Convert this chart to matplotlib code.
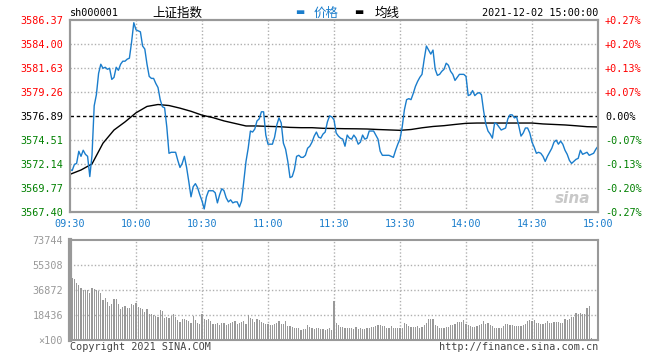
import numpy as np
import matplotlib
matplotlib.use("Agg")
import matplotlib.pyplot as plt

plt.rcParams['font.family'] = ['DejaVu Sans Mono', 'Noto Sans CJK SC']

# --- data (上证指数 sh000001, 2021-12-02, one value per minute)
prev_close = 3576.89

price = [
    3571.6, 3571.5, 3572.1, 3572.2, 3573.4, 3572.9, 3573.5, 3573.1, 3572.9, 3570.9,
    3573.0, 3577.9, 3579.0, 3581.1, 3582.0, 3581.6, 3581.7, 3581.5, 3581.6, 3580.5,
    3580.7, 3581.7, 3581.4, 3582.0, 3582.3, 3582.3, 3582.5, 3582.6, 3584.2, 3586.1,
    3585.4, 3585.3, 3585.2, 3583.8, 3583.5, 3582.0, 3580.8, 3580.6, 3580.6, 3580.1,
    3579.7, 3578.5, 3577.8, 3577.7, 3575.8, 3573.2, 3573.3, 3573.3, 3573.3, 3572.5,
    3571.8, 3572.2, 3572.9, 3571.8, 3570.4, 3568.9, 3569.9, 3570.2, 3569.8, 3569.1,
    3568.5, 3567.7, 3568.9, 3569.5, 3569.5, 3569.5, 3569.3, 3568.3, 3569.1, 3569.7,
    3569.5, 3568.8, 3568.4, 3568.6, 3568.3, 3568.4, 3568.4, 3567.9, 3568.5, 3570.5,
    3572.4, 3573.7, 3575.4, 3575.3, 3575.6, 3576.4, 3576.6, 3577.3, 3577.3, 3575.0,
    3574.1, 3574.1, 3574.1, 3574.8, 3576.0, 3576.7, 3576.2, 3574.2, 3573.6, 3572.4,
    3570.8, 3570.9, 3571.6, 3572.9, 3573.0, 3572.8, 3572.8, 3573.0, 3573.7, 3573.9,
    3574.3, 3574.9, 3575.3, 3574.8, 3574.7, 3575.1, 3575.3, 3576.3, 3576.9, 3576.8,
    3576.5, 3575.2, 3574.9, 3574.7, 3574.6, 3573.9, 3575.0, 3574.7, 3574.6, 3575.0,
    3574.7, 3574.1, 3574.3, 3575.0, 3574.6, 3574.7, 3575.4, 3575.4, 3575.4, 3575.0,
    3574.6, 3573.4, 3573.0, 3573.0, 3573.0, 3573.0, 3572.9, 3572.8, 3573.5, 3574.1,
    3574.6, 3575.8, 3577.5, 3578.5, 3578.6, 3578.5, 3579.1, 3579.8, 3580.3, 3580.7,
    3581.0, 3582.5, 3583.8, 3583.4, 3583.0, 3583.4, 3581.5, 3580.9, 3581.0, 3581.3,
    3581.5, 3582.1, 3581.9, 3581.3, 3581.0, 3580.4, 3580.7, 3581.0, 3581.0, 3581.0,
    3580.8, 3578.9, 3579.0, 3579.4, 3578.9, 3579.1, 3579.2, 3579.0, 3577.4, 3576.1,
    3575.4, 3575.1, 3574.7, 3576.2, 3576.1, 3575.8, 3575.5, 3575.6, 3575.7, 3576.6,
    3577.0, 3577.0, 3576.7, 3576.8, 3575.9, 3574.9, 3575.2, 3575.7, 3575.7, 3575.2,
    3574.3, 3573.8, 3573.2, 3573.3, 3573.2, 3572.9, 3572.4, 3572.9, 3573.3, 3573.7,
    3574.3, 3574.5, 3574.1, 3574.4, 3574.1, 3573.5, 3573.1, 3572.5, 3572.2, 3572.4,
    3572.6, 3572.7, 3573.5, 3573.1, 3573.2, 3573.3, 3573.0, 3573.1, 3573.2, 3573.6,
    3573.9,
]

# 均线 read every 5 minutes
avg_minutes = list(range(0, 241, 5))
avg_price = [
    3571.12, 3571.55, 3572.15, 3574.20, 3575.50, 3576.30, 3577.20, 3577.83, 3578.02, 3577.92,
    3577.66, 3577.35, 3576.97, 3576.72, 3576.40, 3576.15, 3575.90, 3575.90, 3575.86, 3575.83,
    3575.76, 3575.73, 3575.73, 3575.67, 3575.65, 3575.63, 3575.62, 3575.60, 3575.55, 3575.51,
    3575.47, 3575.55, 3575.72, 3575.85, 3575.93, 3576.05, 3576.16, 3576.19, 3576.19, 3576.19,
    3576.19, 3576.19, 3576.19, 3576.10, 3576.05, 3576.00, 3575.92, 3575.83, 3575.80,
]

volume = [
    73744, 45470, 44740, 42280, 40310, 38100, 36870, 36870, 36620, 34900,
    38100, 37850, 36620, 36130, 34900, 29250, 31220, 28270, 25070, 26790,
    29990, 30480, 26300, 23110, 24580, 25070, 23840, 23840, 26300, 25560,
    27530, 24580, 23840, 23110, 20890, 23110, 19420, 18930, 18440, 17700,
    16960, 22370, 21630, 15980, 17210, 16470, 17700, 19420, 17210, 14750,
    13520, 15240, 15730, 14500, 14010, 12780, 17950, 14990, 12780, 12040,
    19170, 15730, 14750, 15730, 14010, 12040, 12040, 12780, 11310, 12540,
    12540, 11060, 11550, 12290, 13270, 14260, 12040, 12290, 13030, 14260,
    12040, 18440, 16470, 15730, 13520, 15490, 14500, 13030, 12780, 12040,
    12040, 11060, 10820, 12040, 12780, 14010, 12040, 12040, 14010, 10570,
    10570, 9590, 8850, 8600, 8600, 7620, 8360, 8360, 11060, 9830,
    9090, 8110, 9090, 9090, 8110, 7870, 7620, 7870, 9090, 7620,
    28500, 12780, 10820, 9830, 9830, 9090, 8600, 8600, 8600, 7870,
    9830, 7870, 9090, 7870, 8110, 8600, 9090, 9590, 9830, 10570,
    10820, 11060, 10080, 10080, 9090, 9090, 10570, 9090, 9090, 9090,
    8600, 9090, 12780, 12040, 10320, 9830, 9830, 9830, 10570, 9090,
    9830, 11060, 12780, 15240, 15240, 15240, 11060, 10320, 8600, 9090,
    9090, 9590, 9830, 10820, 11060, 12040, 13270, 13520, 13520, 14500,
    12040, 11060, 10570, 9590, 9590, 10570, 11060, 12040, 14260, 12040,
    12780, 11060, 10320, 8600, 8600, 9090, 9090, 10320, 12040, 11550,
    10820, 10820, 10320, 10320, 10320, 10320, 11060, 12040, 14010, 14500,
    14010, 14500, 12780, 12780, 12040, 12040, 12780, 14010, 12780, 12780,
    13520, 13520, 13520, 12780, 12780, 15240, 14500, 15240, 17210, 17210,
    19910, 19420, 20160, 18930, 19420, 23840, 25320, 1720, 0, 0,
    0,
]

price_levels = [3567.40, 3569.77, 3572.14, 3574.51, 3576.89, 3579.26, 3581.63, 3584.00, 3586.37]
pct_labels = ["-0.27%", "-0.20%", "-0.13%", "-0.07%", "0.00%", "+0.07%", "+0.13%", "+0.20%", "+0.27%"]
vol_levels = [0, 18436, 36872, 55308, 73744]
vol_labels = ["×100", "18436", "36872", "55308", "73744"]
time_ticks = [0, 30, 60, 90, 120, 150, 180, 210, 240]
time_labels = ["09:30", "10:00", "10:30", "11:00", "11:30", "13:30", "14:00", "14:30", "15:00"]

minutes = np.arange(len(price))

BLUE = "#1a7dcc"
RED = "#ff0000"
GREEN = "#008000"
GRID = "#b0b0b0"
FRAME = "#999999"

fig = plt.figure(figsize=(6.6, 3.6), dpi=100)
ax = fig.add_axes([70/660, 1-212/360, 528/660, 192/360])
axv = fig.add_axes([70/660, 1-340/360, 528/660, 100/360])

# --- price panel
for t in time_ticks[1:-1]:
    ax.axvline(t, color=GRID, lw=1, ls=(0, (1, 1.5)), zorder=1)
for lv in price_levels[1:-1]:
    if lv == prev_close:
        ax.axhline(lv, color="black", lw=1, ls=(0, (2.5, 2)), zorder=2)
    else:
        ax.axhline(lv, color=GRID, lw=1, ls=(0, (1, 1.5)), zorder=1)

ax.plot(minutes, price, color=BLUE, lw=1.0, zorder=4)
ax.plot(avg_minutes, avg_price, color="black", lw=1.0, zorder=3)

ax.set_xlim(0, 240)
ax.set_ylim(price_levels[0], price_levels[-1])
ax.set_xticks(time_ticks)
ax.set_xticklabels(time_labels)
ax.set_yticks(price_levels)
ax.set_yticklabels([f"{v:.2f}" for v in price_levels])
ax.tick_params(length=0, labelsize=7.3, pad=5)
for lab in ax.get_xticklabels():
    lab.set_color(BLUE)
for lab, v in zip(ax.get_yticklabels(), price_levels):
    lab.set_color(RED if v > prev_close else ("black" if v == prev_close else GREEN))

ax2 = ax.twinx()
ax2.set_ylim(ax.get_ylim())
ax2.set_yticks(price_levels)
ax2.set_yticklabels(pct_labels)
ax2.tick_params(length=0, labelsize=7.3, pad=5)
for lab, v in zip(ax2.get_yticklabels(), price_levels):
    lab.set_color(RED if v > prev_close else ("black" if v == prev_close else GREEN))

for a in (ax, ax2):
    for s in a.spines.values():
        s.set_color(FRAME)
        s.set_linewidth(1.5)

# sina watermark
ax.text(0.985, 0.03, "sina", transform=ax.transAxes, ha="right", va="bottom",
        fontsize=11, fontweight="bold", fontstyle="italic", color="#c8c8c8",
        family="DejaVu Sans", zorder=0)

# --- volume panel
for t in time_ticks[1:-1]:
    axv.axvline(t, color=GRID, lw=1, ls=(0, (1, 1.5)), zorder=1)
for lv in vol_levels[1:-1]:
    axv.axhline(lv, color=GRID, lw=1, ls=(0, (1, 1.5)), zorder=1)
axv.bar(minutes, volume, width=0.5, color="#999999", zorder=2)
axv.set_xlim(0, 240)
axv.set_ylim(0, vol_levels[-1])
axv.set_xticks([])
axv.set_yticks(vol_levels)
axv.set_yticklabels(vol_labels)
axv.tick_params(length=0, labelsize=7.3, pad=5, labelcolor="#999999")
for s in axv.spines.values():
    s.set_color(FRAME)
    s.set_linewidth(1.5)
axv.spines["left"].set_linewidth(3)

# --- header and footer texts
fig.text(70/660, 1-13/360, "sh000001", fontsize=7.3, va="center", ha="left")
fig.text(152/660, 1-13/360, "上证指数", fontsize=9, va="center", ha="left",
         family=["Noto Sans CJK SC", "DejaVu Sans"])
fig.text(295/660, 1-12/360, "▬", fontsize=7, va="center", ha="left", color=BLUE,
         family="DejaVu Sans")
fig.text(314/660, 1-13/360, "价格", fontsize=9, va="center", ha="left", color=BLUE,
         family=["Noto Sans CJK SC", "DejaVu Sans"])
fig.text(354/660, 1-12/360, "▬", fontsize=7, va="center", ha="left", color="black",
         family="DejaVu Sans")
fig.text(375/660, 1-13/360, "均线", fontsize=9, va="center", ha="left",
         family=["Noto Sans CJK SC", "DejaVu Sans"])
fig.text(598/660, 1-13/360, "2021-12-02 15:00:00", fontsize=7.3, va="center", ha="right")
fig.text(70/660, 1-347/360, "Copyright 2021 SINA.COM", fontsize=7.3, va="center",
         ha="left", color="#444444")
fig.text(598/660, 1-347/360, "http://finance.sina.com.cn", fontsize=7.3, va="center",
         ha="right", color="#444444")

fig.savefig("out.png", dpi=100)
